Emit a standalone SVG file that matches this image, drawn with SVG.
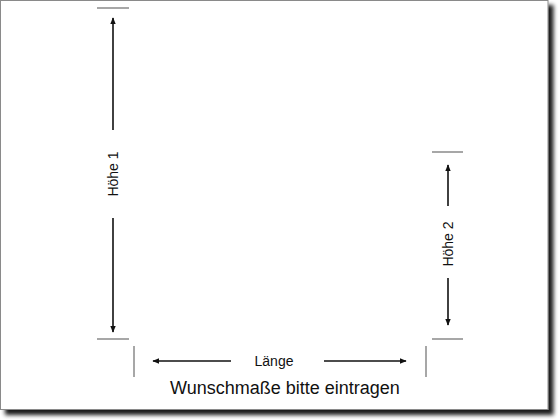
<svg xmlns="http://www.w3.org/2000/svg" width="560" height="420" viewBox="0 0 560 420">
  <defs>
    <filter id="shadow" x="-5%" y="-5%" width="115%" height="115%">
      <feGaussianBlur in="SourceAlpha" stdDeviation="2"/>
      <feOffset dx="5" dy="5" result="b"/>
      <feComponentTransfer><feFuncA type="linear" slope="0.9"/></feComponentTransfer>
      <feMerge><feMergeNode/><feMergeNode in="SourceGraphic"/></feMerge>
    </filter>
    <marker id="ah" viewBox="0 0 10 10" refX="9" refY="5" markerWidth="7" markerHeight="7" markerUnits="userSpaceOnUse" orient="auto">
      <path d="M0,1 L10,5 L0,9 Z" fill="#111"/>
    </marker>
    <style>
      .tick { stroke: #8a8a8a; stroke-width: 1.5; fill: none; }
      .dim { stroke: #111; stroke-width: 1.6; fill: none; }
      .arr { marker-end: url(#ah); }
      .lbl { font-family: "Liberation Sans", Arial, sans-serif; font-size: 14px; fill: #111; text-anchor: middle; }
      .title { font-family: "Liberation Sans", Arial, sans-serif; font-size: 18px; fill: #111; text-anchor: middle; }
    </style>
  </defs>
  <rect x="0" y="0" width="560" height="420" fill="#fff"/>
  <rect x="0.5" y="0.5" width="547.5" height="409" fill="#fff" stroke="#8a8a8a" stroke-width="1" filter="url(#shadow)"/>

  <g id="hoehe1">
    <line class="tick" x1="97" y1="8" x2="129" y2="8"/>
    <line class="tick" x1="97" y1="339" x2="129" y2="339"/>
    <text class="lbl" transform="translate(118,174) rotate(-90)">Höhe 1</text>
  </g>
  <g id="hoehe2">
    <line class="tick" x1="432" y1="152" x2="463" y2="152"/>
    <line class="tick" x1="432" y1="339" x2="463" y2="339"/>
    <text class="lbl" transform="translate(453,244) rotate(-90)">Höhe 2</text>
  </g>
  <g id="laenge">
    <line class="tick" x1="134" y1="346" x2="134" y2="377"/>
    <line class="tick" x1="426" y1="346" x2="426" y2="377"/>
    <text class="lbl" x="274" y="366">Länge</text>
  </g>
  <g id="title">
    <text class="title" x="285" y="394">Wunschmaße bitte eintragen</text>
  </g>

  <g id="connectors">
    <line class="dim arr" x1="113" y1="130" x2="113" y2="18"/>
    <line class="dim arr" x1="113" y1="218" x2="113" y2="332"/>
    <line class="dim arr" x1="448" y1="206" x2="448" y2="165"/>
    <line class="dim arr" x1="448" y1="278" x2="448" y2="325"/>
    <line class="dim arr" x1="231" y1="361" x2="153" y2="361"/>
    <line class="dim arr" x1="324" y1="361" x2="406" y2="361"/>
  </g>
</svg>
